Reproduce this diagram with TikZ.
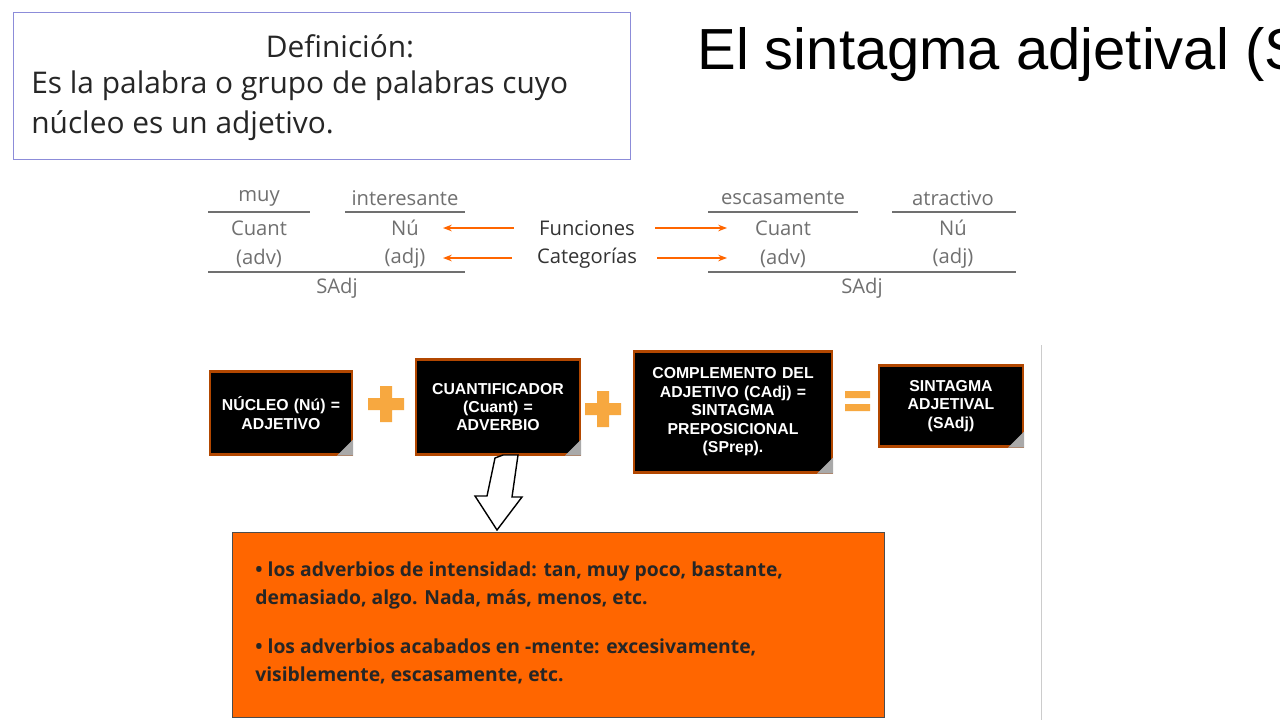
\documentclass[tikz,border=0pt]{standalone}
\usepackage{fontspec}
\setmainfont{Open Sans}
\setsansfont{Liberation Sans}
\usetikzlibrary{arrows.meta,positioning}
\definecolor{orng}{HTML}{FF6600}
\definecolor{lorng}{HTML}{F7A840}
\definecolor{gtxt}{HTML}{707070}
\tikzset{
  gram/.style={text=gtxt,font=\fontsize{11.5}{14}\selectfont,inner sep=0pt},
  cat/.style={text=black!80,font=\fontsize{11.5}{14}\selectfont,inner sep=0pt},
  oarrow/.style={-{Stealth[length=5pt]},draw=orng,thick},
  note/.style={fill=black,draw=orng!70!black,line width=1.2pt,text=white,
    font=\sffamily\bfseries\fontsize{9}{10.5}\selectfont,align=center,text width=#1},
}
\begin{document}
\begin{tikzpicture}[x=0.02cm,y=-0.02cm]
  \useasboundingbox (0,0) rectangle (1280,720);
  \fill[white] (0,0) rectangle (1280,720);

  % definition box and title
  \node[draw=blue!50!gray!60,thin,minimum width=617*0.02cm,minimum height=147*0.02cm,
        anchor=north west] (defbox) at (13,12) {};
  \node[font=\fontsize{17}{19}\selectfont,text=black!85] (deftitle) at (340,46) {Definición:};
  \node[font=\fontsize{17}{23}\selectfont,text=black!85,align=left,anchor=north west,inner sep=0pt]
        (deftext) at (31,70) {Es la palabra o grupo de palabras cuyo\\núcleo es un adjetivo.};
  \begin{scope}
    \clip (0,0) rectangle (1280,720);
    \node[font=\sffamily\fontsize{33}{36}\selectfont,anchor=west,inner sep=0pt] (title) at (697,55)
          {El sintagma adjetival (SAdj)};
  \end{scope}

  % gram analysis
  \node[gram] (muy) at (259,198) {muy};
  \node[gram] (inter) at (405,198) {interesante};
  \node[gram] (cuL) at (259,228) {Cuant};
  \node[gram] (nuL) at (405,228) {Nú};
  \node[gram] (advL) at (259,258) {(adv)};
  \node[gram] (adjL) at (405,258) {(adj)};
  \node[gram] (sadjL) at (337,288) {SAdj};
  \draw[gtxt,thick] (208,212) -- (310,212) (345,212) -- (465,212) (208,272) -- (465,272);

  \node[cat] (func) at (587,228) {Funciones};
  \node[cat] (cats) at (587,258) {Categorías};

  \node[gram] (esc) at (783,198) {escasamente};
  \node[gram] (atr) at (953,198) {atractivo};
  \node[gram] (cuR) at (783,228) {Cuant};
  \node[gram] (nuR) at (953,228) {Nú};
  \node[gram] (advR) at (783,258) {(adv)};
  \node[gram] (adjR) at (953,258) {(adj)};
  \node[gram] (sadjR) at (862,288) {SAdj};
  \draw[gtxt,thick] (708,212) -- (858,212) (892,212) -- (1016,212) (708,272) -- (1016,272);

  \draw[oarrow] (func.west) ++(-25,0) -- (443,228);
  \draw[oarrow] (cats.west) ++(-25,0) -- (443,258);
  \draw[oarrow] (func.east) ++(20,0) -- (727,228);
  \draw[oarrow] (cats.east) ++(20,0) -- (727,258);

  % boxes
  \node[note=2.4cm,minimum height=83*0.02cm,minimum width=142*0.02cm] (nucleo) at (281,413) {NÚCLEO (Nú) =\\ADJETIVO};
  \node[note=2.9cm,minimum height=95*0.02cm,minimum width=164*0.02cm] (cuant) at (498,407) {CUANTIFICADOR\\(Cuant) =\\ADVERBIO\\[8pt]};
  \node[note=3.6cm,minimum height=121*0.02cm,minimum width=198*0.02cm] (comp) at (733,412) {COMPLEMENTO DEL\\ADJETIVO (CAdj) =\\SINTAGMA\\PREPOSICIONAL\\(SPrep).};
  \node[note=2.5cm,minimum height=81*0.02cm,minimum width=144*0.02cm] (sadj) at (951,406) {SINTAGMA\\ADJETIVAL\\(SAdj)};
  \foreach \b in {nucleo,cuant,comp,sadj}
    \fill[gtxt!60] (\b.south east) -- ++(0,-16) -- ++(-16,16) -- cycle;

  % operators
  \foreach \nm/\x/\y in {plusA/386/404,plusB/603/409}{
    \fill[lorng] (\x-6,\y-18) rectangle (\x+6,\y+18) (\x-18,\y-6) rectangle (\x+18,\y+6);
    \coordinate (\nm) at (\x,\y);}
  \fill[lorng] (845,391) rectangle (870,398) (845,404) rectangle (870,411);

  \draw[gray!40] (1041,345) -- (1041,720);

  % result box
  \node[fill=orng,draw=black!70,thick,minimum width=652*0.02cm,minimum height=185*0.02cm,
        anchor=north west] (adv) at (232,532) {};
  \node[anchor=north west,font=\bfseries\fontsize{11}{16}\selectfont,text=black!85,align=left,inner sep=0pt]
        (advtext) at (255,561) {• los adverbios de intensidad: tan, muy poco, bastante,\\demasiado, algo. Nada, más, menos, etc.\\[12pt]
        • los adverbios acabados en -mente: excesivamente,\\visiblemente, escasamente, etc.};

  \draw[thick,fill=white] (503,455) -- (518,455) -- (512,497) -- (522,497) -- (497,530)
        -- (475,496) -- (487,496) -- (495,458) -- cycle;
\end{tikzpicture}
\end{document}
